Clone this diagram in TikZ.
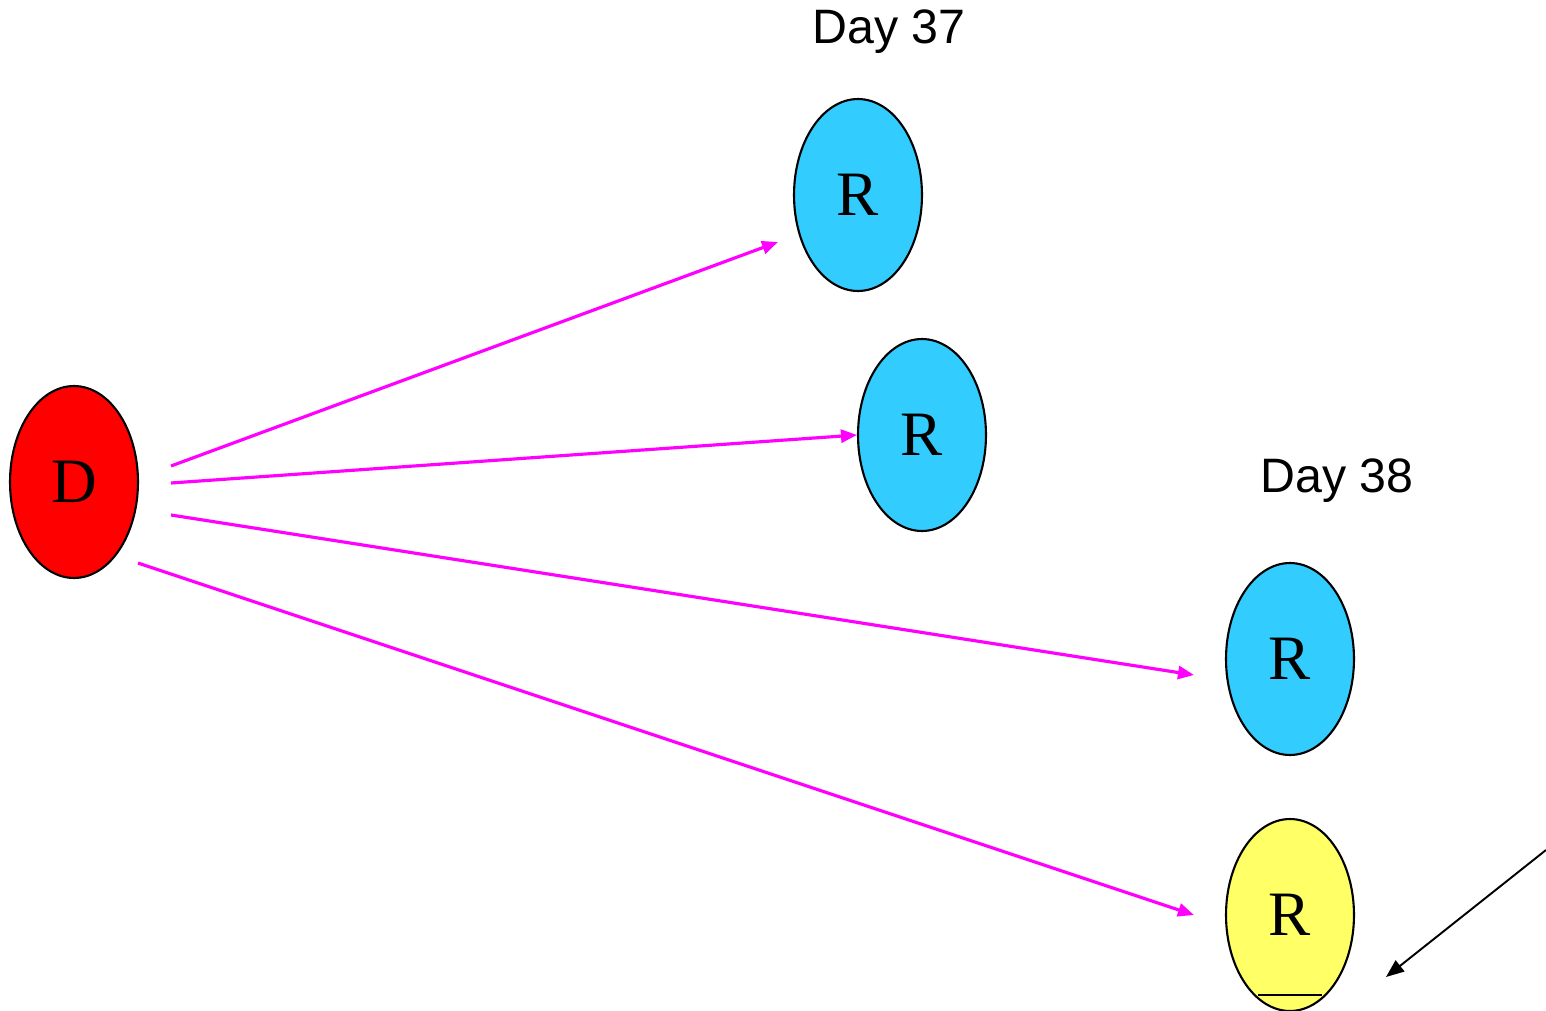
\documentclass[tikz,border=0pt]{standalone}
\usepackage{fontspec}
\setmainfont{Liberation Serif}
\newfontfamily\daysans{Liberation Sans}
\usetikzlibrary{arrows.meta,shapes.geometric}
\definecolor{rblue}{RGB}{51,204,255}
\definecolor{ryellow}{RGB}{255,255,102}
\definecolor{dred}{RGB}{255,0,0}
\definecolor{mag}{RGB}{255,0,255}
\tikzset{
  oval/.style={ellipse, draw=black, line width=1.2pt, minimum width=2.56cm, minimum height=3.84cm, inner sep=0pt, font=\fontsize{36}{36}\selectfont},
  daylabel/.style={font=\daysans\fontsize{27.5}{27.5}\selectfont, inner sep=0pt},
  magarrow/.style={draw=mag, line width=1.8pt, -{Triangle[length=0.32cm,width=0.26cm]}},
  blkarrow/.style={draw=black, line width=1.1pt, -{Triangle[length=0.36cm,width=0.28cm]}}
}
\begin{document}
\begin{tikzpicture}[x=0.02cm,y=-0.02cm]
\useasboundingbox (0,0) rectangle (1546,1011);
\node[oval, fill=dred] (d) at (74,482) {D};
\node[oval, fill=rblue] (r1) at (858,195) {R};
\node[oval, fill=rblue] (r2) at (922,435) {R};
\node[oval, fill=rblue] (r3) at (1290,659) {R};
\node[oval, fill=ryellow] (r4) at (1290,915) {R};
\node[daylabel] (day37) at (889,32) {Day 37};
\node[daylabel] (day38) at (1337,481) {Day 38};
\coordinate (s1) at (171,466);
\coordinate (s2) at (171,483);
\coordinate (s3) at (171,515);
\coordinate (s4) at (138,563);
\coordinate (e1) at (778,242);
\coordinate (e3) at (1194,675);
\coordinate (e4) at (1194,915);
\coordinate (bs) at (1546,850);
\coordinate (be) at (1386,977);
\coordinate (ul) at (1258,995);
\coordinate (ur) at (1322,995);
\draw[magarrow] (s1) -- (e1);
\draw[magarrow] (s2) -- (r2.west);
\draw[magarrow] (s3) -- (e3);
\draw[magarrow] (s4) -- (e4);
\draw[blkarrow] (bs) -- (be);
\draw[black, line width=1.2pt] (ul) -- (ur);
\end{tikzpicture}
\end{document}
